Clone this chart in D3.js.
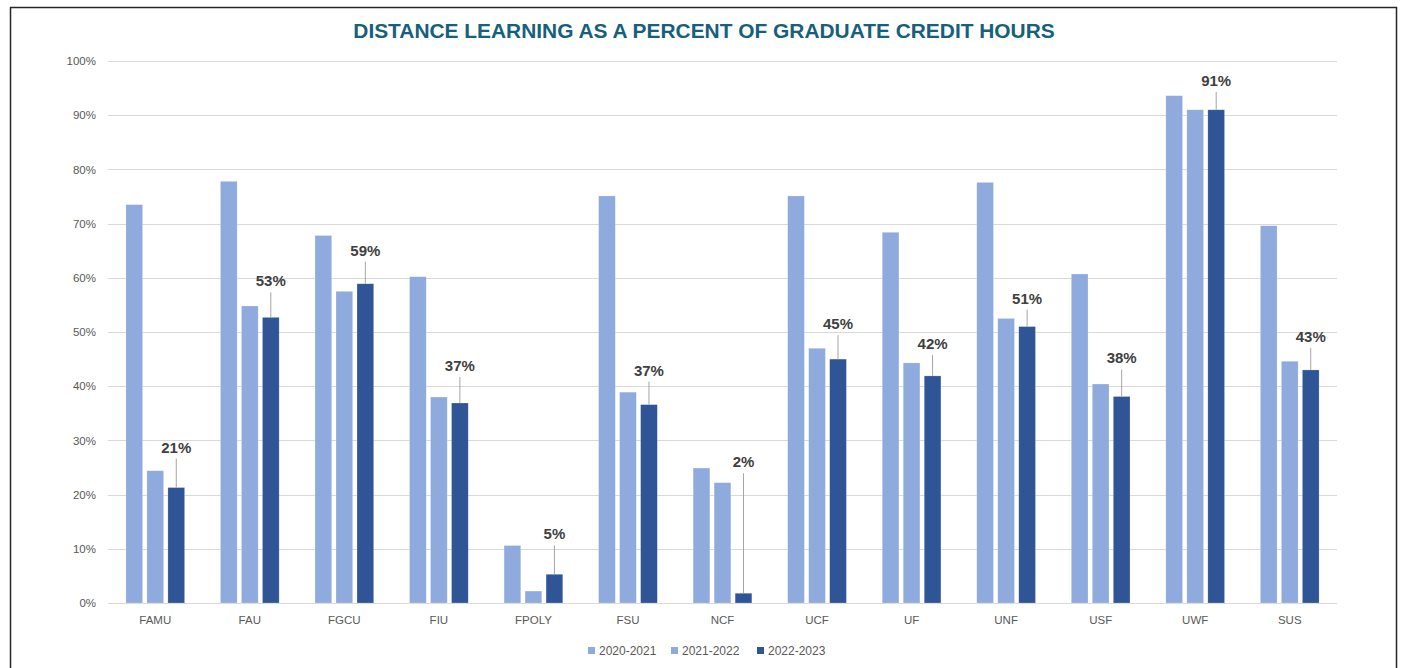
<!DOCTYPE html>
<html>
<head>
<meta charset="utf-8">
<script src="https://cdn.jsdelivr.net/npm/d3@7"></script>
<style>
  html, body { margin: 0; padding: 0; background: #fff; }
  svg { display: block; }
</style>
</head>
<body>
<svg id="chart" width="1403" height="668"></svg>
<script>
const categories = ["FAMU", "FAU", "FGCU", "FIU", "FPOLY", "FSU", "NCF", "UCF", "UF", "UNF", "USF", "UWF", "SUS"];
const seriesNames = ["2020-2021", "2021-2022", "2022-2023"];
const values2020 = [73.5, 77.8, 67.8, 60.2, 10.6, 75.1, 24.9, 75.1, 68.4, 77.6, 60.7, 93.6, 69.6];
const values2021 = [24.4, 54.8, 57.5, 38.0, 2.2, 38.9, 22.2, 47.0, 44.3, 52.5, 40.4, 91.0, 44.6];
const values2022 = [21.3, 52.7, 58.9, 36.9, 5.3, 36.6, 1.8, 45.0, 41.9, 51.0, 38.1, 91.0, 43.0];
const yTicks = [0, 10, 20, 30, 40, 50, 60, 70, 80, 90, 100];
const title = "DISTANCE LEARNING AS A PERCENT OF GRADUATE CREDIT HOURS";

// layout (not data): leader-line length above each 2022-2023 bar
const leaderLen = [29, 25, 22, 26, 29, 23, 120, 24, 21, 17, 27, 18, 22];

const colors = ["#8FAADC", "#8FAADC", "#2F5597"];
const seriesValues = [values2020, values2021, values2022];

const svg = d3.select("#chart");

// border
svg.append("rect")
  .attr("x", 10.5).attr("y", 7.5).attr("width", 1386).attr("height", 700)
  .attr("fill", "#fff").attr("stroke", "#262626").attr("stroke-width", 1.5);

const plot = { left: 108, right: 1337, top: 61, bottom: 603 };

const x = d3.scaleBand().domain(categories).range([plot.left, plot.right]).paddingInner(0).paddingOuter(0);
const y = d3.scaleLinear().domain([0, 100]).range([plot.bottom, plot.top]);

const groupStep = 21, barW = 16.7;
const xInner = d3.scaleBand().domain(seriesNames).range([-groupStep * 1.5, groupStep * 1.5]);

// title
svg.append("text")
  .attr("x", 704).attr("y", 38)
  .attr("text-anchor", "middle")
  .attr("font-family", "Liberation Sans, Arial, sans-serif")
  .attr("font-weight", "bold")
  .attr("font-size", 20.9)
  .attr("fill", "#16607C")
  .text(title);

// gridlines
svg.append("g")
  .selectAll("line")
  .data(yTicks)
  .join("line")
  .attr("x1", plot.left).attr("x2", plot.right)
  .attr("y1", d => Math.round(y(d)) + 0.5).attr("y2", d => Math.round(y(d)) + 0.5)
  .attr("stroke", "#D9D9D9").attr("stroke-width", 1);

// y axis labels
const yAxis = d3.axisLeft(y).tickValues(yTicks).tickFormat(d => d + "%").tickSize(0).tickPadding(0);
const gy = svg.append("g").attr("transform", `translate(96,0)`).call(yAxis);
gy.select(".domain").remove();
gy.selectAll("text")
  .attr("font-family", "Liberation Sans, Arial, sans-serif")
  .attr("font-size", 11.5)
  .attr("fill", "#595959");

// x axis labels
const xAxis = d3.axisBottom(x).tickSize(0).tickPadding(0);
const gx = svg.append("g").attr("transform", `translate(0,${plot.bottom + 13})`).call(xAxis);
gx.select(".domain").remove();
gx.selectAll("text")
  .attr("dy", "0.71em")
  .attr("font-family", "Liberation Sans, Arial, sans-serif")
  .attr("font-size", 11.5)
  .attr("fill", "#595959");

// bars
const rows = [];
categories.forEach((c, i) => {
  seriesNames.forEach((s, j) => {
    rows.push({ cat: c, series: s, value: seriesValues[j][i], color: colors[j] });
  });
});

svg.append("g")
  .selectAll("rect")
  .data(rows)
  .join("rect")
  .attr("x", d => x(d.cat) + x.bandwidth() / 2 + xInner(d.series) + (groupStep - barW) / 2)
  .attr("width", barW)
  .attr("y", d => y(d.value))
  .attr("height", d => y(0) - y(d.value))
  .attr("fill", d => d.color)
  .attr("stroke", "#fff").attr("stroke-opacity", 0.35).attr("stroke-width", 0.6);

// data labels for 2022-2023 with leader lines
const lab = svg.append("g");
categories.forEach((c, i) => {
  const v = values2022[i];
  const cx = x(c) + x.bandwidth() / 2 + xInner(seriesNames[2]) + groupStep / 2;
  const top = y(v);
  const lineTop = top - leaderLen[i];
  lab.append("line")
    .attr("x1", cx).attr("x2", cx)
    .attr("y1", lineTop).attr("y2", top)
    .attr("stroke", "#A6A6A6").attr("stroke-width", 1);
  lab.append("text")
    .attr("x", cx).attr("y", lineTop - 6)
    .attr("text-anchor", "middle")
    .attr("font-family", "Liberation Sans, Arial, sans-serif")
    .attr("font-weight", "bold")
    .attr("font-size", 15)
    .attr("fill", "#404040")
    .text(Math.round(v) + "%");
});

// legend
const legendX = [588, 671, 757];
const lg = svg.append("g");
seriesNames.forEach((s, j) => {
  lg.append("rect")
    .attr("x", legendX[j]).attr("y", 647)
    .attr("width", 7).attr("height", 7)
    .attr("fill", colors[j]);
  lg.append("text")
    .attr("x", legendX[j] + 11).attr("y", 654.5)
    .attr("font-family", "Liberation Sans, Arial, sans-serif")
    .attr("font-size", 12)
    .attr("fill", "#595959")
    .text(s);
});
</script>
</body>
</html>
